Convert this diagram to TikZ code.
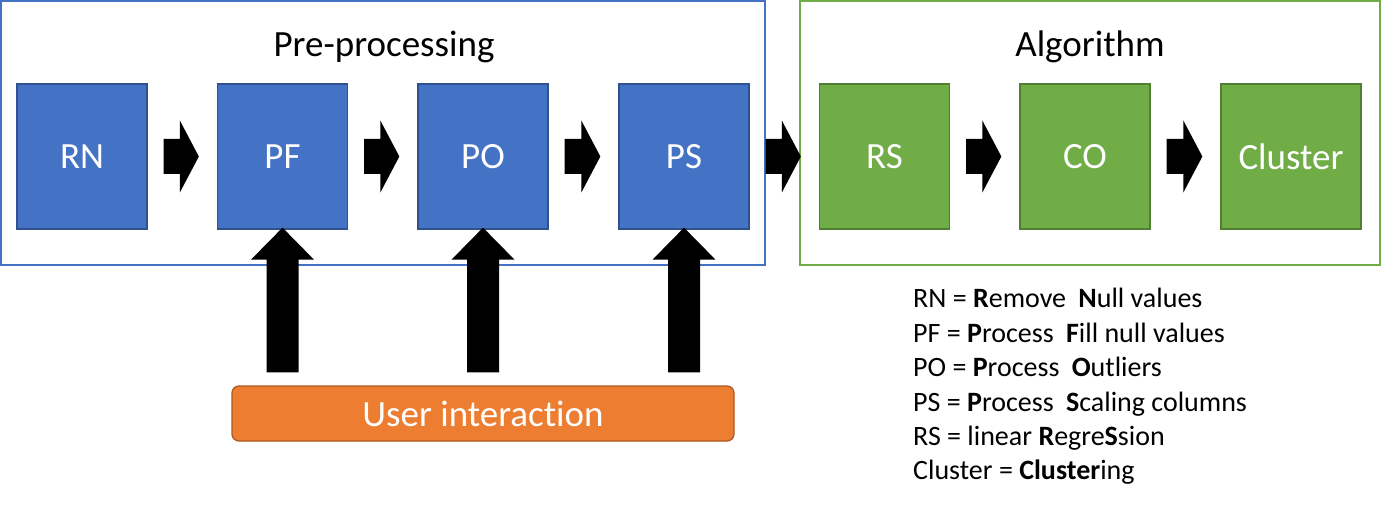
\documentclass[tikz,border=0pt]{standalone}
\usepackage{fontspec}
\setmainfont{Carlito}[Ligatures=NoCommon]
\usetikzlibrary{calc}
\definecolor{boxblue}{HTML}{4472C4}
\definecolor{boxblueline}{HTML}{2F528F}
\definecolor{boxgreen}{HTML}{70AD47}
\definecolor{boxgreenline}{HTML}{507E32}
\definecolor{uiorange}{HTML}{ED7D31}
\definecolor{uiorangeline}{HTML}{AE5A21}
\tikzset{
  frameblue/.style={draw=boxblue, line width=2pt, minimum width=764pt, minimum height=264pt, inner sep=0pt},
  framegreen/.style={draw=boxgreen, line width=2pt, minimum width=580pt, minimum height=264pt, inner sep=0pt},
  titletext/.style={anchor=base, font=\fontsize{37}{44}\selectfont, inner sep=0pt},
  bluebox/.style={fill=boxblue, draw=boxblueline, line width=1.3pt, minimum width=130pt, minimum height=145pt, inner sep=0pt, text=white, font=\fontsize{37}{44}\selectfont},
  greenbox/.style={fill=boxgreen, draw=boxgreenline, line width=1.3pt, minimum width=130pt, minimum height=145pt, inner sep=0pt, text=white, font=\fontsize{37}{44}\selectfont},
  uibox/.style={fill=uiorange, draw=uiorangeline, line width=1.3pt, rounded corners=7pt, minimum width=502pt, minimum height=55pt, inner sep=0pt, text=white, font=\fontsize{37}{44}\selectfont},
  legendtext/.style={anchor=base west, inner sep=0pt, font=\fontsize{28}{34}\selectfont},
  bigarrow/.style={fill=black, draw=none}
}
\newcommand{\wsp}{\hspace{6pt}}
% horizontal block arrow from node #1 to node #2
\newcommand{\harrowfill}[2]{%
  \fill[bigarrow] ($(#1.east)+(16,-17.5)$) -- ($(#2.west)+(-37,-17.5)$) -- ($(#2.west)+(-37,-36)$)
   -- ($(#2.west)+(-18,0)$) -- ($(#2.west)+(-37,36)$) -- ($(#2.west)+(-37,17.5)$) -- ($(#1.east)+(16,17.5)$) -- cycle;}
% vertical block arrow from node #1 (bottom) up to node #2
\newcommand{\varrowfill}[2]{%
  \coordinate (vb) at ($(#2.south |- #1.north)+(0,-13)$);
  \coordinate (vt) at ($(#2.south)+(0,-2)$);
  \fill[bigarrow] ($(vb)+(-16,0)$) -- ($(vt)+(-16,32)$) -- ($(vt)+(-31.5,32)$) -- (vt)
   -- ($(vt)+(31.5,32)$) -- ($(vt)+(16,32)$) -- ($(vb)+(16,0)$) -- cycle;}
\begin{document}
\begin{tikzpicture}[x=1pt,y=-1pt]
\useasboundingbox (0,0) rectangle (1382,508);
\fill[white] (0,0) rectangle (1382,508);
% frames
\node[frameblue] (pre) at (383,133) {};
\node[framegreen] (alg) at (1090,133) {};
\node[titletext] (pretitle) at (384,57) {Pre-processing};
\node[titletext] (algtitle) at (1090,57) {Algorithm};
% boxes
\node[bluebox] (rn) at (82,156.5) {RN};
\node[bluebox] (pf) at (282.5,156.5) {PF};
\node[bluebox] (po) at (483,156.5) {PO};
\node[bluebox] (ps) at (684,156.5) {PS};
\node[greenbox] (rs) at (884.5,156.5) {RS};
\node[greenbox] (co) at (1085,156.5) {CO};
\node[greenbox, minimum width=140pt] (cl) at (1291,156.5) {Cluster};
% user interaction
\node[uibox] (ui) at (483,413.5) {User interaction};
% horizontal arrows
\harrowfill{rn}{pf}
\harrowfill{pf}{po}
\harrowfill{po}{ps}
\harrowfill{ps}{rs}
\harrowfill{rs}{co}
\harrowfill{co}{cl}
% vertical arrows
\varrowfill{ui}{pf}
\varrowfill{ui}{po}
\varrowfill{ui}{ps}
% legend
\node[legendtext] (l1) at (913,307) {RN = \textbf{R}emove \wsp\textbf{N}ull values};
\node[legendtext] (l2) at (913,342) {PF = \textbf{P}rocess \wsp\textbf{F}ill null values};
\node[legendtext] (l3) at (913,376) {PO = \textbf{P}rocess \wsp\textbf{O}utliers};
\node[legendtext] (l4) at (913,411) {PS = \textbf{P}rocess \wsp\textbf{S}caling columns};
\node[legendtext] (l5) at (913,445) {RS = linear \textbf{R}egre\textbf{S}sion};
\node[legendtext] (l6) at (913,479) {Cluster = \textbf{Cluster}ing};
\end{tikzpicture}
\end{document}
